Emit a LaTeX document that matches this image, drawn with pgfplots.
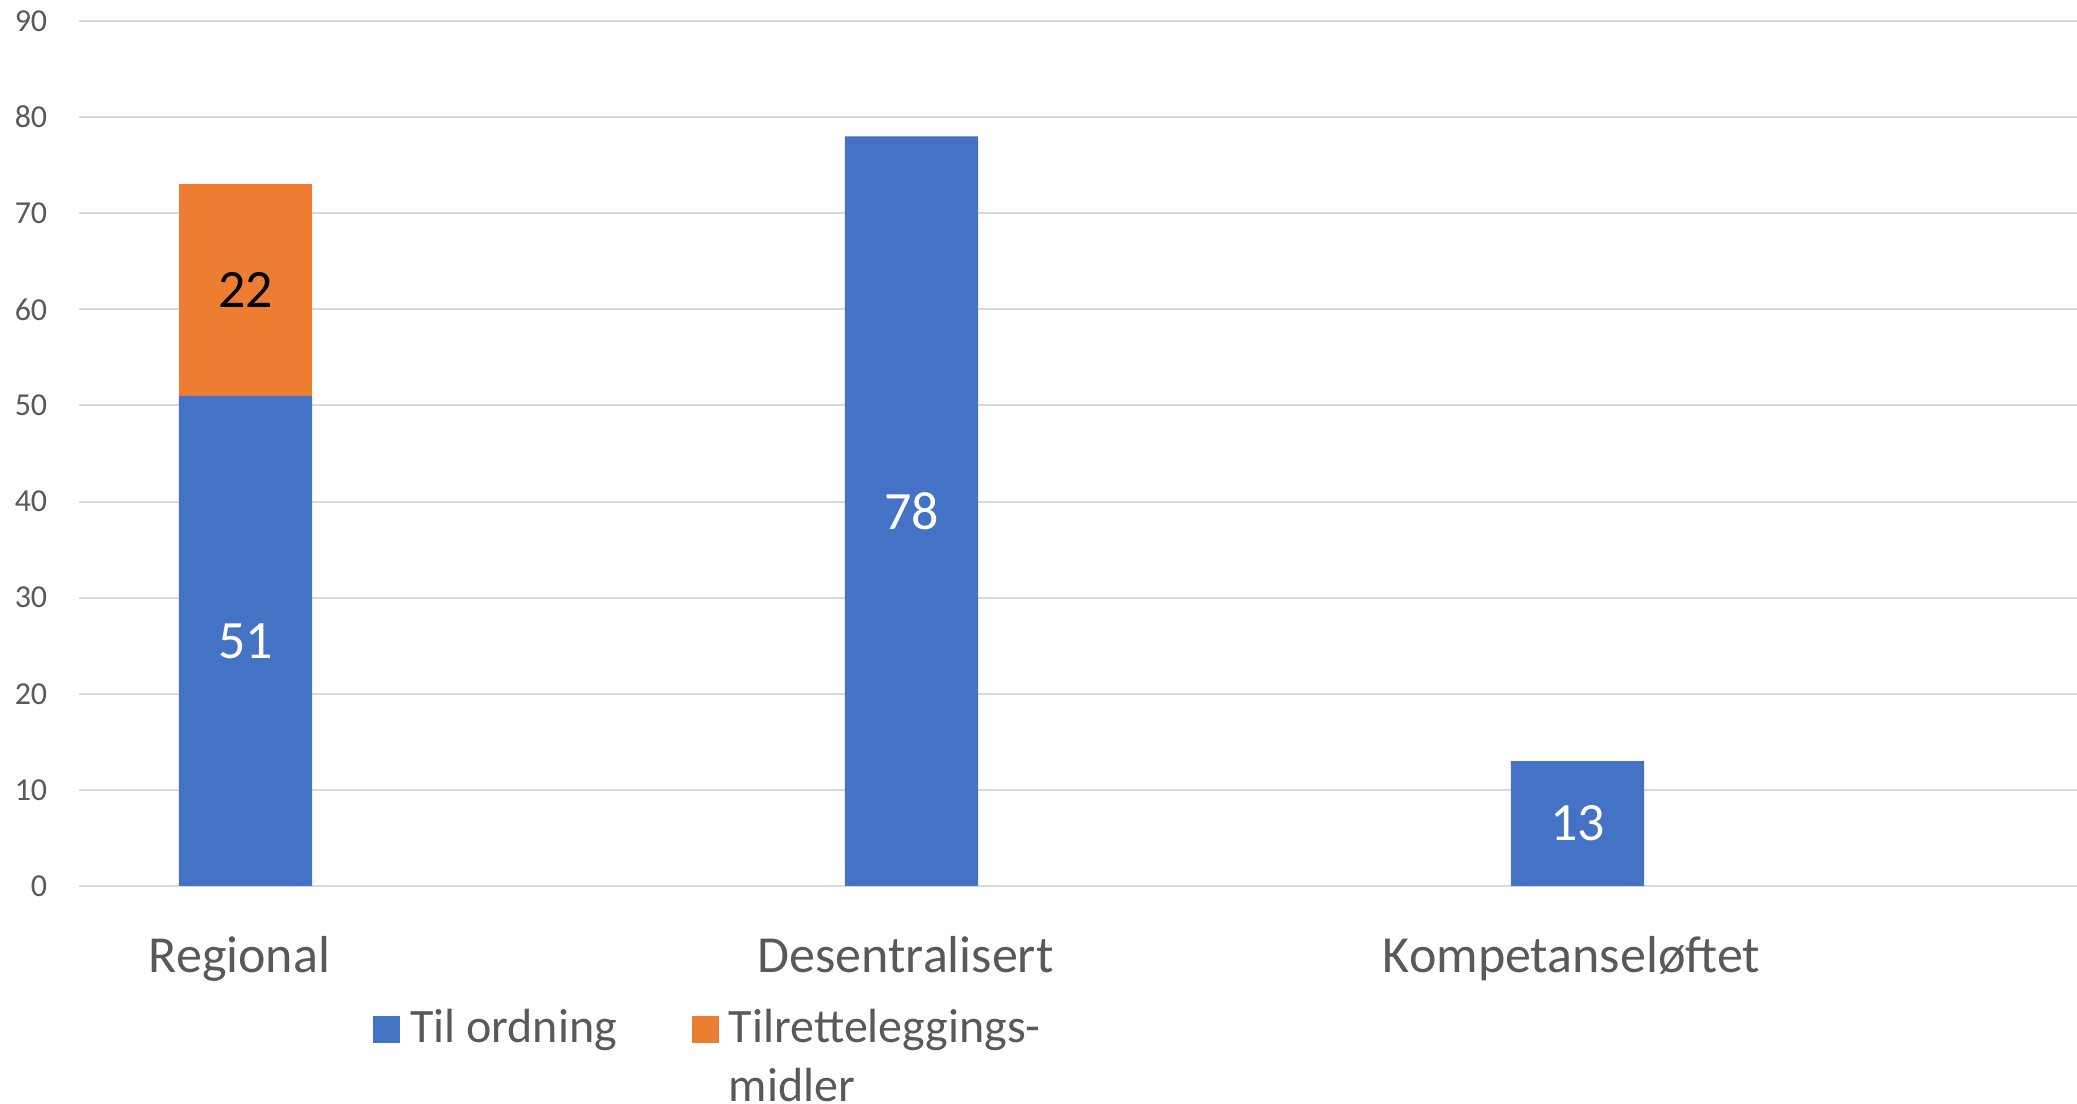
\documentclass[border=0pt]{standalone}
\usepackage{fontspec}
\setmainfont{Carlito}
\usepackage{pgfplots}
\usepackage{pgfplotstable}
\pgfplotsset{compat=1.18}
\definecolor{barblue}{HTML}{4472C4}
\definecolor{barorange}{HTML}{ED7D31}
\definecolor{txtgray}{HTML}{595959}
\definecolor{gridgray}{HTML}{D9D9D9}

\pgfplotstableread{
x a
0 51
1 78
2 13
}\dataA
\pgfplotstableread{
x b
0 22
}\dataB

\begin{document}
\begin{tikzpicture}
\begin{axis}[
  scale only axis,
  width=499.5pt, height=216.25pt,
  xmin=-0.25, xmax=2.75,
  ymin=0, ymax=90,
  ytick={0,10,...,90},
  xtick={0,1,2},
  xticklabels={Regional,Desentralisert,Kompetanseløftet},
  ybar stacked,
  bar width=0.2,
  axis line style={draw=none},
  major tick length=0pt,
  ymajorgrids,
  grid style={gridgray, line width=0.5pt},
  /pgf/number format/assume math mode=true,
  yticklabel style={font=\fontsize{8}{10}\selectfont, text=txtgray, anchor=east, inner sep=0pt, xshift=-7.75pt},
  xticklabel style={font=\fontsize{13}{15}\selectfont, text=txtgray, anchor=base, inner sep=0pt, yshift=-21.75pt, xshift=-1.5pt},
  legend columns=2,
  legend style={draw=none, fill=none, inner sep=0pt, outer sep=0pt,
    at={(0.14715,-0.1341)}, anchor=north west,
    font=\fontsize{12}{14.6}\selectfont, text=txtgray,
    cells={anchor=base west}, nodes={inner sep=0pt},
    /tikz/every odd column/.append style={column sep=2.5pt},
    /tikz/every even column/.append style={column sep=18.75pt}},
  legend image code/.code={\fill[#1,draw=none] (0pt,0pt) rectangle (6.75pt,6.75pt);},
  nodes near coords,
  nodes near coords align={center},
  clip=false,
]
\addplot[fill=barblue, draw=none,
  nodes near coords style={font=\fontsize{13.5}{16}\selectfont, text=white, anchor=center}]
  table[x=x, y=a, meta=a] {\dataA};
\addlegendentry{Til ordning}
\addplot[fill=barorange, draw=none,
  nodes near coords style={font=\fontsize{13.5}{16}\selectfont, text=black, anchor=center}]
  table[x=x, y=b, meta=b] {\dataB};
\addlegendentry{\begin{tabular}[t]{@{}l@{}}Tilretteleggings-\\midler\end{tabular}}
\coordinate (ll) at (rel axis cs:0,0);
\coordinate (ur) at (rel axis cs:1,1);
\end{axis}
\pgfresetboundingbox
\path[use as bounding box] ([xshift=-19.75pt,yshift=-54.5pt]ll) rectangle ([yshift=5.25pt]ur);
\end{tikzpicture}
\end{document}
